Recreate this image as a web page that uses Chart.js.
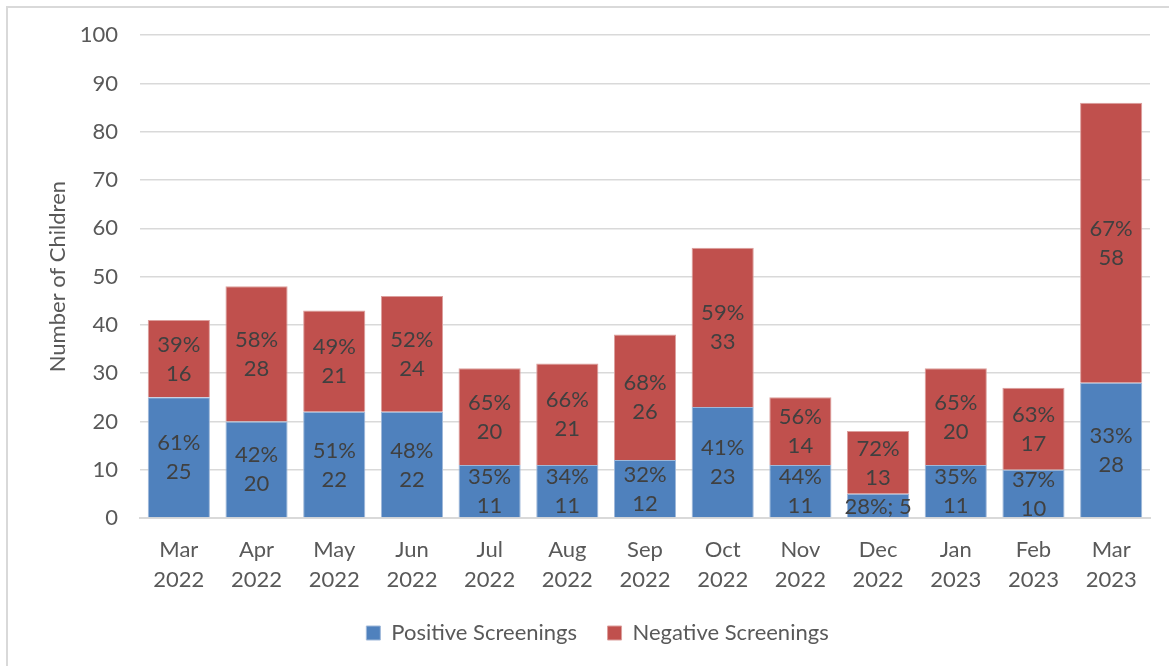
<!DOCTYPE html>
<html>
<head>
<meta charset="utf-8">
<script src="https://cdn.jsdelivr.net/npm/chart.js@4.4.0/dist/chart.umd.min.js"></script>
<style>
  html, body { margin: 0; padding: 0; background: #fff; overflow: hidden; }
  #marco { position: absolute; left: 6px; top: 6px; width: 1200px; height: 700px; border: 2px solid #d9d9d9; }
  #contenedor { position: absolute; left: 0; top: 0; width: 1169px; height: 666px; }
</style>
</head>
<body>
<div id="marco"></div>
<div id="contenedor"><canvas id="graficoPruebas"></canvas></div>
<script>
// Datos del gráfico
const meses = [
  ['Mar', '2022'], ['Apr', '2022'], ['May', '2022'], ['Jun', '2022'],
  ['Jul', '2022'], ['Aug', '2022'], ['Sep', '2022'], ['Oct', '2022'],
  ['Nov', '2022'], ['Dec', '2022'], ['Jan', '2023'], ['Feb', '2023'], ['Mar', '2023']
];
const positivos = [25, 20, 22, 22, 11, 11, 12, 23, 11, 5, 11, 10, 28];
const negativos = [16, 28, 21, 24, 20, 21, 26, 33, 14, 13, 20, 17, 58];
const ticksY = [0, 10, 20, 30, 40, 50, 60, 70, 80, 90, 100];

const fuente = "Lato, 'Open Sans', sans-serif";

// Etiquetas dentro de cada barra: porcentaje y valor
const etiquetasBarras = {
  id: 'etiquetasBarras',
  afterDatasetsDraw(chart) {
    const ctx = chart.ctx;
    ctx.save();
    ctx.fillStyle = '#404040';
    ctx.font = '22px ' + fuente;
    ctx.textAlign = 'center';
    ctx.textBaseline = 'middle';
    chart.data.datasets.forEach((ds, i) => {
      const meta = chart.getDatasetMeta(i);
      meta.data.forEach((barra, j) => {
        const valor = ds.data[j];
        const total = positivos[j] + negativos[j];
        const pct = Math.round(valor / total * 100) + '%';
        const centro = (barra.y + barra.base) / 2;
        const alto = Math.abs(barra.base - barra.y);
        if (alto < 40) {
          ctx.fillText(pct + '; ' + valor, barra.x, centro + 1);
        } else {
          ctx.fillText(pct, barra.x, centro - 14);
          ctx.fillText(String(valor), barra.x, centro + 15);
        }
      });
    });
    ctx.restore();
  }
};

function renderGrafico() {
  const ctx = document.getElementById('graficoPruebas').getContext('2d');

  new Chart(ctx, {
    type: 'bar',
    data: {
      labels: meses,
      datasets: [
        {
          label: 'Positive Screenings',
          data: positivos,
          backgroundColor: '#4f81bd',
          borderColor: '#9fb8d9',
          borderWidth: 1
        },
        {
          label: 'Negative Screenings',
          data: negativos,
          backgroundColor: '#c0504d',
          borderColor: '#dc9f9d',
          borderWidth: 1
        }
      ]
    },
    options: {
      responsive: true,
      maintainAspectRatio: false,
      animation: false,
      layout: { padding: { top: 28, right: 19, bottom: 12, left: 45 } },
      datasets: { bar: { barPercentage: 0.8, categoryPercentage: 1 } },
      scales: {
        x: {
          stacked: true,
          grid: { display: false, drawTicks: false },
          border: { color: '#d9d9d9', width: 2 },
          ticks: { color: '#595959', font: { family: fuente, size: 22, lineHeight: 1.35 }, padding: 17, maxRotation: 0 },
          afterFit(scale) { scale.height = 90; }
        },
        y: {
          stacked: true,
          min: 0,
          max: 100,
          afterBuildTicks(scale) { scale.ticks = ticksY.map(v => ({ value: v })); },
          grid: { color: '#d9d9d9', lineWidth: 1.5, drawTicks: false },
          border: { display: false },
          ticks: { color: '#595959', font: { family: fuente, size: 22 }, padding: 22 },
          title: {
            display: true,
            text: 'Number of Children',
            color: '#595959',
            font: { family: fuente, size: 22 },
            padding: { top: 0, bottom: 8 }
          },
          afterFit(scale) { scale.width = 95; }
        }
      },
      plugins: {
        legend: {
          position: 'bottom',
          labels: {
            color: '#595959',
            font: { family: fuente, size: 22 },
            boxWidth: 14,
            boxHeight: 14,
            padding: 14,
            generateLabels(chart) {
              const items = Chart.defaults.plugins.legend.labels.generateLabels(chart);
              // separación extra entre las dos entradas
              items[0].text = items[0].text + '\u2003';
              return items;
            }
          }
        },
        tooltip: { enabled: false }
      }
    },
    plugins: [etiquetasBarras]
  });
}

document.addEventListener('DOMContentLoaded', () => {
  renderGrafico();
});
</script>
</body>
</html>
